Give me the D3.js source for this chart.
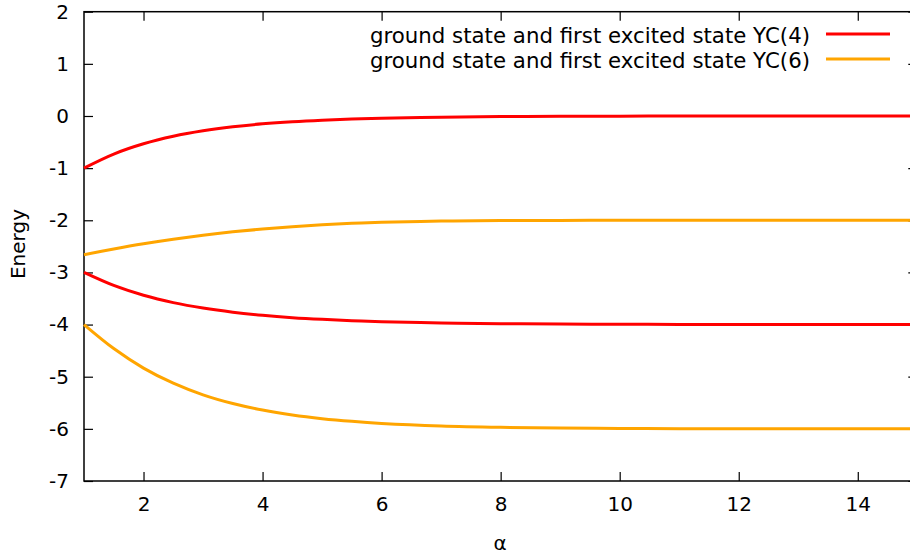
<!DOCTYPE html>
<html>
<head>
<meta charset="utf-8">
<script src="https://cdn.jsdelivr.net/npm/d3@7"></script>
<style>
  html, body { margin: 0; padding: 0; background: #fff; }
  svg { display: block; font-family: "DejaVu Sans", sans-serif; }
</style>
</head>
<body>
<svg id="chart" width="910" height="556"></svg>
<script>
// alpha sample positions
const alpha = [1, 1.5, 2, 2.5, 3, 3.5, 4, 4.5, 5, 5.5, 6, 7, 8, 9, 10, 11, 12, 13, 14, 15];
// YC(4) ground / first excited
const yc4Upper = [-1, -0.73, -0.533, -0.389, -0.284, -0.207, -0.151, -0.110, -0.080, -0.058, -0.042, -0.022, -0.012, -0.006, -0.003, -0.0017, -0.001, -0.0005, -0.0003, -0.0001];
const yc4Lower = [-3, -3.25, -3.438, -3.579, -3.684, -3.763, -3.822, -3.867, -3.900, -3.925, -3.944, -3.969, -3.982, -3.990, -3.994, -3.997, -3.998, -3.999, -4, -4];
// YC(6) ground / first excited
const yc6Upper = [-2.66, -2.55, -2.45, -2.363, -2.287, -2.222, -2.167, -2.122, -2.086, -2.058, -2.038, -2.015, -2.006, -2.002, -2.001, -2, -2, -2, -2, -2];
const yc6Lower = [-4, -4.46, -4.835, -5.125, -5.348, -5.515, -5.64, -5.734, -5.804, -5.856, -5.895, -5.944, -5.97, -5.984, -5.992, -5.996, -5.998, -5.999, -6, -6];

const xTicks = [2, 4, 6, 8, 10, 12, 14];
const yTicks = [2, 1, 0, -1, -2, -3, -4, -5, -6, -7];
const legendLabels = ["ground state and first excited state YC(4)", "ground state and first excited state YC(6)"];
const colors = ["#ff0000", "#ffa500"];

const svg = d3.select("#chart");
const pLeft = 84, pRight = 917.3, pTop = 11.7, pBottom = 481;
const x = d3.scaleLinear().domain([1, 15]).range([pLeft, pRight]);
const y = d3.scaleLinear().domain([-7, 2]).range([pBottom, pTop]);

const fs = "20px";
const fsLeg = "21.3px";

const ax = (g) => {
  g.select(".domain").remove();
  g.selectAll("line").attr("stroke", "#000").attr("stroke-width", 1.2);
  g.selectAll("text").attr("font-size", fs).attr("fill", "#000").attr("font-family", "DejaVu Sans");
};
const plain = (d) => String(d);

svg.append("g").attr("transform", `translate(0,${pBottom})`)
  .call(d3.axisBottom(x).tickValues(xTicks).tickSize(-9).tickPadding(16).tickFormat(plain))
  .call(ax);
svg.append("g").attr("transform", `translate(0,${pTop})`)
  .call(d3.axisTop(x).tickValues(xTicks).tickSize(-9).tickFormat(""))
  .call(ax);
svg.append("g").attr("transform", `translate(${pLeft},0)`)
  .call(d3.axisLeft(y).tickValues(yTicks).tickSize(-9).tickPadding(15).tickFormat(plain))
  .call(ax);
svg.append("g").attr("transform", `translate(${pRight},0)`)
  .call(d3.axisRight(y).tickValues(yTicks).tickSize(-9).tickFormat(""))
  .call(ax);

svg.append("rect").attr("x", pLeft).attr("y", pTop).attr("width", pRight - pLeft).attr("height", pBottom - pTop)
  .attr("fill", "none").attr("stroke", "#000").attr("stroke-width", 1.5);

const line = d3.line().x((d) => x(d[0])).y((d) => y(d[1])).curve(d3.curveCatmullRom.alpha(0.5));
const series = [
  { vals: yc4Upper, c: 0 }, { vals: yc4Lower, c: 0 },
  { vals: yc6Upper, c: 1 }, { vals: yc6Lower, c: 1 }
];
series.forEach((s) => {
  svg.append("path").datum(alpha.map((a, i) => [a, s.vals[i]]))
    .attr("d", line).attr("fill", "none").attr("stroke", colors[s.c]).attr("stroke-width", 3);
});

const legY = [35, 60];
legendLabels.forEach((t, i) => {
  svg.append("text").attr("x", 810).attr("y", legY[i]).attr("text-anchor", "end").attr("dominant-baseline", "central")
    .attr("font-size", fsLeg).attr("fill", "#000").text(t);
  svg.append("line").attr("x1", 826).attr("x2", 890).attr("y1", legY[i] - 1).attr("y2", legY[i] - 1)
    .attr("stroke", colors[i]).attr("stroke-width", 3);
});

svg.append("text").attr("x", 500).attr("y", 543).attr("text-anchor", "middle").attr("dominant-baseline", "central")
  .attr("font-size", fs).attr("fill", "#000").text("α");
svg.append("text").attr("transform", "translate(18,244) rotate(-90)").attr("text-anchor", "middle").attr("dominant-baseline", "central")
  .attr("font-size", fs).attr("fill", "#000").text("Energy");
</script>
</body>
</html>
